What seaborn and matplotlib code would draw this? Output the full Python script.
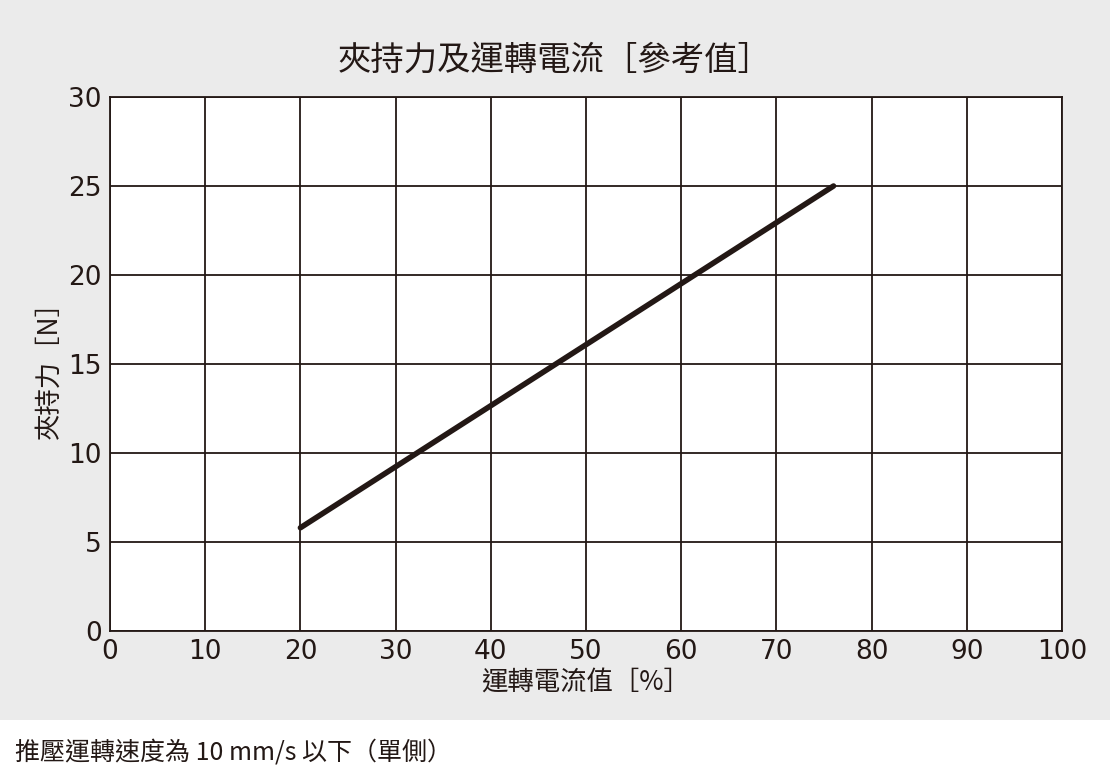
import matplotlib
matplotlib.use("Agg")
import matplotlib.pyplot as plt
import seaborn as sns
import pandas as pd
from matplotlib.patches import Rectangle

current = [20, 76]
force = [5.8, 25]
xticks = list(range(0, 101, 10))
yticks = list(range(0, 31, 5))

sns.set_theme(style="white")
plt.rcParams['font.family'] = ['Noto Sans CJK TC', 'DejaVu Sans']

fig = plt.figure(figsize=(11.1, 7.84), dpi=100)
fig.patch.set_facecolor("white")
fig.patches.append(Rectangle((0, 1 - 720/784), 1, 720/784, transform=fig.transFigure,
                             facecolor="#ebebeb", edgecolor="none", zorder=-10))
ax = fig.add_axes([110/1110, 1 - 631/784, 952/1110, 534/784])
ax.set_zorder(5)
ax.set_facecolor("white")
df = pd.DataFrame({"x": current, "y": force})
sns.lineplot(data=df, x="x", y="y", ax=ax, color="#231815", linewidth=4)
ax.set_xlim(0, 100); ax.set_ylim(0, 30)
ax.set_xticks(xticks); ax.set_yticks(yticks)
ax.grid(True, color="#231815", linewidth=1.3)
for s in ax.spines.values():
    s.set_color("#231815"); s.set_linewidth(1.3)
ax.tick_params(labelsize=19, colors="#231815", length=0, pad=6)
for lbl in ax.get_xticklabels()+ax.get_yticklabels():
    lbl.set_family("DejaVu Sans")
ax.set_xlabel("運轉電流值［%］", fontsize=19, labelpad=2, color="#231815")
ax.set_ylabel("夾持力［N］", fontsize=19, labelpad=4, color="#231815")
fig.text(0.5, 1 - 60/784, "夾持力及運轉電流［參考值］", ha="center", va="center", fontsize=24, color="#231815")
fig.text(15/1110, 1 - 752/784, "推壓運轉速度為 10 mm/s 以下（單側）", ha="left", va="center", fontsize=18, color="#231815")
fig.savefig("out.png", dpi=100)
